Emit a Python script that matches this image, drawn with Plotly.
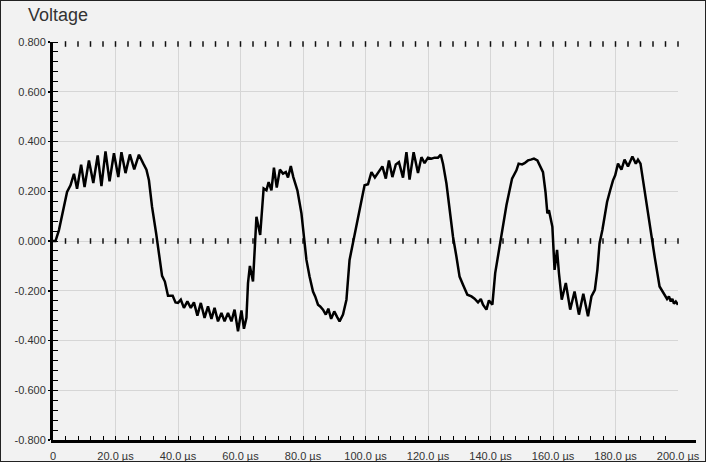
import numpy as np
import plotly.graph_objects as go

# ---- data (time in µs, voltage in V) ----
time_us = [0, 0.8, 1.9, 3.5, 4.5, 5.6, 6.7, 7.7, 9.0, 10.1, 11.5, 12.9, 14.3, 15.5, 16.8, 18.1,
           19.5, 20.9, 21.9, 23.2, 24.6, 26.0, 27.5, 28.9, 29.9, 30.7, 31.7, 33.0, 33.9, 34.9,
           35.8, 36.8, 38.3, 39.2, 40.0, 40.9, 41.9, 43.0, 44.1, 45.1, 46.2, 47.3, 48.5, 49.6,
           50.7, 51.7, 52.8, 53.9, 54.9, 56.0, 57.1, 58.1, 59.2, 60.3, 61.1, 61.9, 62.4, 63.0,
           64.0, 65.1, 66.3, 67.4, 68.3, 69.0, 69.9, 70.7, 71.6, 72.6, 73.6, 74.5, 75.2, 76.1,
           76.9, 78.2, 79.5, 80.3, 81.1, 82.1, 83.2, 83.9, 84.8, 85.5, 86.4, 87.3, 88.1, 89.0,
           90.0, 90.9, 91.7, 92.8, 93.9, 94.9, 96.0, 97.1, 98.3, 99.7, 100.8, 101.9, 103.0,
           104.3, 105.4, 106.5, 107.5, 108.6, 109.7, 110.7, 112.0, 113.1, 114.1, 115.4, 116.8,
           117.9, 118.9, 120.0, 121.1, 122.1, 123.2, 124.1, 124.8, 125.9, 126.9, 128.0, 129.1,
           130.1, 131.2, 132.6, 133.9, 134.9, 136.0, 136.9, 137.6, 138.7, 139.5, 140.6, 141.5,
           142.6, 143.7, 145.1, 146.9, 148.3, 149.0, 150.1, 150.9, 152.0, 152.9, 153.9, 155.0,
           156.1, 156.8, 157.6, 158.2, 158.7, 159.3, 159.8, 160.5, 161.3, 161.9, 162.8, 164.1,
           165.5, 166.9, 168.3, 169.7, 171.2, 172.3, 173.4, 174.2, 174.9, 175.8, 176.5, 177.3,
           178.3, 179.2, 179.9, 180.8, 181.9, 182.9, 184.0, 185.4, 186.5, 187.2, 188.0, 188.8,
           190.1, 191.3, 192.6, 194.1, 195.7, 196.5, 197.1, 197.7, 198.2, 198.7, 199.3, 200.0]
voltage = [0.0, 0.0, 0.044, 0.144, 0.197, 0.224, 0.27, 0.21, 0.307, 0.217, 0.324, 0.233, 0.344,
           0.221, 0.36, 0.24, 0.353, 0.257, 0.357, 0.273, 0.348, 0.288, 0.347, 0.311, 0.287,
           0.244, 0.137, 0.031, -0.049, -0.14, -0.163, -0.22, -0.22, -0.247, -0.249, -0.236,
           -0.269, -0.243, -0.269, -0.247, -0.30, -0.249, -0.309, -0.263, -0.313, -0.269,
           -0.323, -0.289, -0.323, -0.289, -0.323, -0.276, -0.363, -0.279, -0.353, -0.309,
           -0.169, -0.10, -0.163, 0.097, 0.024, 0.211, 0.204, 0.237, 0.204, 0.295, 0.215,
           0.287, 0.271, 0.277, 0.255, 0.301, 0.257, 0.204, 0.111, 0.017, -0.076, -0.143,
           -0.203, -0.223, -0.256, -0.263, -0.276, -0.296, -0.272, -0.313, -0.283, -0.305,
           -0.323, -0.296, -0.236, -0.076, -0.009, 0.071, 0.131, 0.224, 0.228, 0.277, 0.255,
           0.277, 0.30, 0.251, 0.324, 0.257, 0.308, 0.317, 0.255, 0.357, 0.247, 0.357, 0.273,
           0.337, 0.313, 0.335, 0.331, 0.335, 0.335, 0.347, 0.311, 0.231, 0.137, 0.017, -0.063,
           -0.143, -0.176, -0.216, -0.223, -0.232, -0.247, -0.233, -0.256, -0.276, -0.239,
           -0.256, -0.129, -0.049, 0.044, 0.144, 0.251, 0.284, 0.311, 0.308, 0.313, 0.324,
           0.327, 0.331, 0.324, 0.297, 0.277, 0.197, 0.111, 0.124, 0.084, 0.057, -0.116,
           -0.036, -0.129, -0.236, -0.169, -0.276, -0.203, -0.296, -0.212, -0.303, -0.223,
           -0.196, -0.116, -0.009, 0.044, 0.097, 0.157, 0.204, 0.244, 0.264, 0.311, 0.287,
           0.327, 0.30, 0.34, 0.311, 0.327, 0.311, 0.244, 0.131, 0.024, -0.069, -0.183,
           -0.216, -0.233, -0.223, -0.243, -0.233, -0.252, -0.243, -0.256]

X_TICKS = [0, 20, 40, 60, 80, 100, 120, 140, 160, 180, 200]
X_LABELS = ["0", "20.0 µs", "40.0 µs", "60.0 µs", "80.0 µs", "100.0 µs", "120.0 µs",
            "140.0 µs", "160.0 µs", "180.0 µs", "200.0 µs"]
Y_TICKS = [-0.8, -0.6, -0.4, -0.2, 0.0, 0.2, 0.4, 0.6, 0.8]
Y_LABELS = ["-0.800", "-0.600", "-0.400", "-0.200", "0.000", "0.200", "0.400", "0.600", "0.800"]
TITLE = "Voltage"
MINOR_X = 4
MINOR_Y = 0.04

W, H = 706, 462
ML, MR, MT, MB = 53, 28, 42, 22
PW, PH = W - ML - MR, H - MT - MB
BG = "#f2f2f2"
GRID = "#d6d6d6"
FONT = "Liberation Sans, Arial, sans-serif"

fig = go.Figure()

# crossing tick marks along the zero line and the top edge
cross_x = np.arange(MINOR_X, X_TICKS[-1] + 0.01, MINOR_X)
for yv in (0.0, Y_TICKS[-1] - 0.008):
    fig.add_trace(go.Scatter(
        x=cross_x, y=[yv] * len(cross_x), mode="markers",
        marker=dict(symbol="line-ns", size=4, line=dict(width=1.5, color="#111")),
        hoverinfo="skip", cliponaxis=False, showlegend=False))

fig.add_trace(go.Scatter(
    x=time_us, y=voltage, mode="lines",
    line=dict(color="black", width=2.5), showlegend=False))

fig.update_xaxes(
    range=[X_TICKS[0], X_TICKS[-1]], tickmode="array", tickvals=X_TICKS, ticktext=X_LABELS,
    ticks="inside", ticklen=4, tickwidth=1, tickcolor="black",
    minor=dict(tickmode="linear", tick0=0, dtick=MINOR_X, ticks="inside", ticklen=4,
               tickwidth=1, tickcolor="black", showgrid=False),
    showgrid=True, gridcolor=GRID, gridwidth=1, zeroline=False, showline=False,
    automargin=False, ticklabelstandoff=8,
    tickfont=dict(family=FONT, size=11, color="#333"), fixedrange=True)

fig.update_yaxes(
    range=[Y_TICKS[0], Y_TICKS[-1]], tickmode="array", tickvals=Y_TICKS, ticktext=Y_LABELS,
    ticks="outside", ticklen=2, tickwidth=1.5, tickcolor="black",
    minor=dict(tickmode="linear", tick0=0, dtick=MINOR_Y, ticks="inside", ticklen=5,
               tickwidth=1, tickcolor="black", showgrid=False),
    showgrid=True, gridcolor=GRID, gridwidth=1, zeroline=False,
    showline=True, linewidth=3, linecolor="black", automargin=False,
    tickfont=dict(family=FONT, size=11, color="#333"), fixedrange=True)

shapes = [
    # x axis line, extending slightly beyond the plot area
    dict(type="line", xref="paper", yref="paper", x0=-2 / PW, x1=(W - 10 - ML) / PW,
         y0=-1.5 / PH, y1=-1.5 / PH, line=dict(color="black", width=3)),
    # outer border of the figure
    dict(type="rect", xref="paper", yref="paper",
         x0=-ML / PW, x1=(W - ML) / PW, y0=-MB / PH, y1=(H - MB) / PH,
         line=dict(color="#222", width=2), fillcolor="rgba(0,0,0,0)"),
]

fig.update_layout(
    width=W, height=H, margin=dict(l=ML, r=MR, t=MT, b=MB, autoexpand=False),
    paper_bgcolor=BG, plot_bgcolor=BG, showlegend=False,
    shapes=shapes,
    annotations=[dict(text=TITLE, xref="paper", yref="paper", x=-27 / PW, y=1 + 27 / PH,
                      xanchor="left", yanchor="middle", showarrow=False,
                      font=dict(family=FONT, size=18, color="#333"))],
)

fig.write_html("out.html", config={"displayModeBar": False, "staticPlot": True},
               post_script="document.body.style.margin='0';")
